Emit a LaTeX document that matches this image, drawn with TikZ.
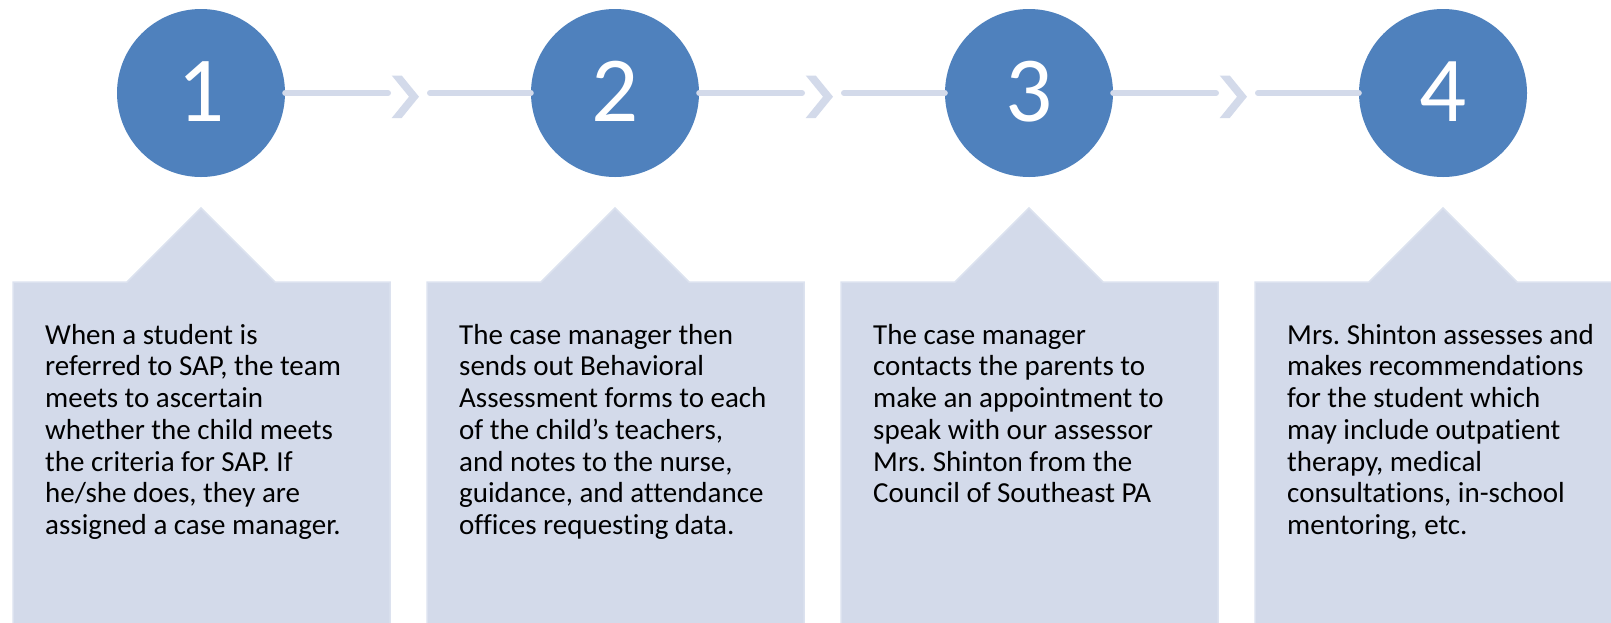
\documentclass[tikz,border=0pt]{standalone}
\usepackage{fontspec}
\setmainfont[Ligatures=NoCommon]{Carlito}
\frenchspacing
\definecolor{circblue}{HTML}{4F81BD}
\definecolor{boxfill}{HTML}{D3DAEA}
\definecolor{boxline}{HTML}{DCE2EF}
\definecolor{conncol}{HTML}{D3DAEA}
\tikzset{
  stepcircle/.style={circle, fill=circblue, minimum size=168pt, inner sep=0pt, text=white, font=\fontsize{93}{93}\selectfont},
  boxtext/.style={anchor=north west, inner sep=0pt, align=left, font=\fontsize{29}{31.7}\selectfont\frenchspacing, text=black},
  connline/.style={draw=conncol, line width=6pt, line cap=round},
  chevron/.style={fill=conncol, draw=none},
  calloutbox/.style={fill=boxfill, draw=boxline, line width=1.5pt}
}
\begin{document}
\begin{tikzpicture}[x=1pt,y=-1pt]
\useasboundingbox (0,0) rectangle (1611,622);
% callout boxes
\foreach \i/\bx in {1/13,2/427,3/841,4/1255}{
  \path[calloutbox] (\bx,624) -- (\bx,282) -- ({\bx+114},282) -- ({\bx+188},208) -- ({\bx+262},282) -- ({\bx+377},282) -- ({\bx+377},624) -- cycle;
}
% circles
\node[stepcircle] (c1) at (201,93) {\raisebox{3pt}{1}};
\node[stepcircle] (c2) at (615,93) {\raisebox{3pt}{2}};
\node[stepcircle] (c3) at (1029,93) {\raisebox{3pt}{3}};
\node[stepcircle] (c4) at (1443,93) {\raisebox{3pt}{4}};
% connectors
\foreach \a/\b/\x in {c1/c2/0,c2/c3/414,c3/c4/828}{
  \coordinate (e\a) at ({388+\x},93);
  \coordinate (s\b) at ({430+\x},93);
  \draw[connline] (\a.east) -- (e\a);
  \draw[connline] (s\b) -- (\b.west);
  \fill[chevron] ({391.7+\x},75.5) -- ({401.7+\x},75.5) -- ({419+\x},96.7) -- ({401.7+\x},118) -- ({391.7+\x},118) -- ({409+\x},96.7) -- cycle;
}
% texts
\node[boxtext] (t1) at (45,320) {\rule{0pt}{24pt}When a student is\\referred to SAP, the team\\meets to ascertain\\whether the child meets\\the criteria for SAP. If\\he/she does, they are\\assigned a case manager.};
\node[boxtext] (t2) at (459,320) {\rule{0pt}{24pt}The case manager then\\sends out Behavioral\\Assessment forms to each\\of the child’s teachers,\\and notes to the nurse,\\guidance, and attendance\\offices requesting data.};
\node[boxtext] (t3) at (873,320) {\rule{0pt}{24pt}The case manager\\contacts the parents to\\make an appointment to\\speak with our assessor\\Mrs. Shinton from the\\Council of Southeast PA};
\node[boxtext] (t4) at (1287,320) {\rule{0pt}{24pt}Mrs. Shinton assesses and\\makes recommendations\\for the student which\\may include outpatient\\therapy, medical\\consultations, in-school\\mentoring, etc.};
\end{tikzpicture}
\end{document}
